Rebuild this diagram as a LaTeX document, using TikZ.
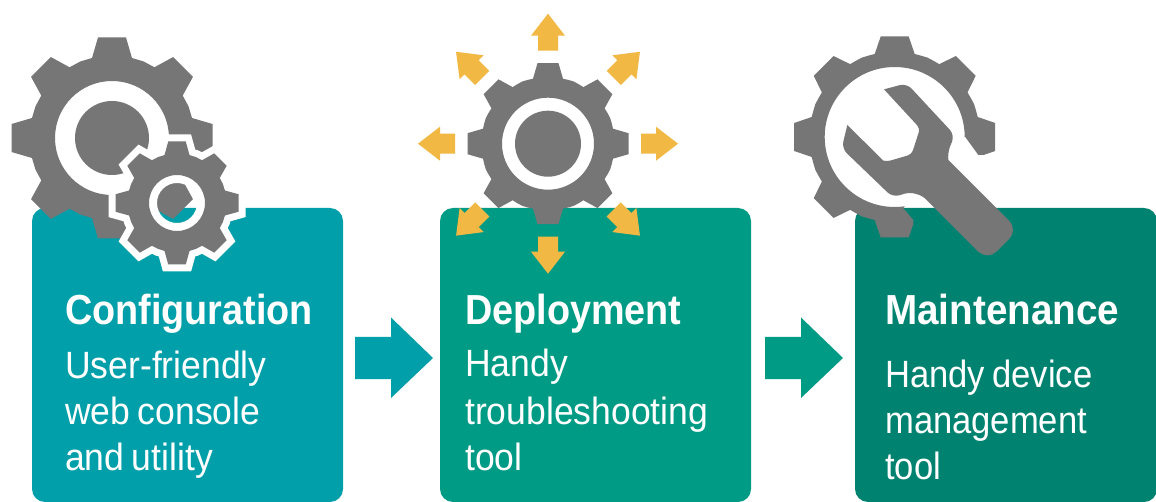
\documentclass[tikz,border=0pt]{standalone}
\usepackage{fontspec}
\setmainfont[FakeStretch=0.9]{Liberation Sans}
\newfontfamily\bodyfont[FakeStretch=0.935,WordSpace=0.75]{Liberation Sans}
\newfontfamily\bodyfontC[FakeStretch=0.91,WordSpace=0.75]{Liberation Sans}
\newfontfamily\headfontC[FakeStretch=0.92]{Liberation Sans}
\usetikzlibrary{calc}
\definecolor{gearg}{HTML}{767676}
\definecolor{tealA}{HTML}{009FA9}
\definecolor{tealB}{HTML}{009B84}
\definecolor{tealC}{HTML}{008270}
\definecolor{gold}{HTML}{F2B844}
\tikzset{
 x=1pt,y=-1pt,
 cardbox/.style={rounded corners=13pt},
 headtext/.style={font=\bfseries\fontsize{42}{42}\selectfont,text=white,anchor=base west,inner sep=0},
 headtextC/.style={font=\headfontC\bfseries\fontsize{42}{42}\selectfont,text=white,anchor=base west,inner sep=0},
 bodytext/.style={font=\bodyfont\fontsize{38}{38}\selectfont,text=white,anchor=base west,inner sep=0},
 bodytextC/.style={font=\bodyfontC\fontsize{38}{38}\selectfont,text=white,anchor=base west,inner sep=0},
 rayarrow/.style={fill=gold},
}
% gear outline: centre x, y, tip radius, root radius, half root width
\newcommand{\gearp}[5]{%
 \foreach \ga [count=\gi] in {0,45,...,315}{
   \ifnum\gi=1 \else -- \fi
   ($(#1,#2)+({\ga-90}:#4)+(\ga:{-(#5)})$)
   -- ($(#1,#2)+({\ga-90}:#3)+(\ga:{-(#5)*0.7})$)
   -- ($(#1,#2)+({\ga-90}:#3)+(\ga:{(#5)*0.7})$)
   -- ($(#1,#2)+({\ga-90}:#4)+(\ga:{#5})$)
   -- ($(#1,#2)+({\ga-90+18}:{(#4)*1.03})$)
   -- ($(#1,#2)+({\ga-90+22.5}:{(#4)*1.035})$)
   -- ($(#1,#2)+({\ga-90+27}:{(#4)*1.03})$)
 } -- cycle}
\newcommand{\wrenchpt}[2]{({780+(#1)/3},{20+(#2)/3})}
\newcommand{\rayshape}[1]{%
 \fill[rayarrow,shift={(548,143.7)},rotate=#1] (93,-10) -- (108,-10) -- (108,-17) -- (130,0) -- (108,17) -- (108,10) -- (93,10) -- cycle;}
\begin{document}
\begin{tikzpicture}
\useasboundingbox (0,0) rectangle (1156,502);
\fill[white] (0,0) rectangle (1156,502);
% cards
\fill[tealA,cardbox] (32,208) rectangle (343,502);
\fill[tealB,cardbox] (440,208) rectangle (751,502);
\fill[tealC,cardbox] (855,208) rectangle (1157,502);
% big gear 1
\fill[gearg,even odd rule] \gearp{112}{138}{100.5}{80}{20} (112,138) circle[radius=57];
\fill[gearg] (112,138) circle[radius=37];
% small gear with halo
\draw[white,line width=14pt,line join=miter,miter limit=3] \gearp{177}{203}{61.5}{48}{12.5};
\fill[white,even odd rule] (177,203) circle[radius=29] (177,203) circle[radius=20];
\fill[gearg,even odd rule] \gearp{177}{203}{61.5}{48}{12.5} (177,203) circle[radius=28];
% gear 2
\fill[gearg,even odd rule] \gearp{548}{143.7}{80.5}{65}{15} (548,143.7) circle[radius=46];
\fill[gearg] (548,143.7) circle[radius=33];
\foreach \ra in {0,45,...,315}{\rayshape{\ra}}
% gear 3
\begin{scope}
\clip \wrenchpt{0}{0} -- \wrenchpt{700}{0} -- \wrenchpt{700}{405} -- \wrenchpt{595}{405} -- \wrenchpt{555}{350} -- \wrenchpt{440}{460} -- \wrenchpt{370}{565} -- \wrenchpt{400}{600} -- \wrenchpt{400}{700} -- \wrenchpt{0}{700} -- cycle;
\fill[gearg,even odd rule] \gearp{894.7}{137}{100.5}{83}{20} (894.7,137) circle[radius=70];
\end{scope}
% wrench
\fill[gearg] \wrenchpt{312}{208} [rounded corners=7pt] -- \wrenchpt{380}{190} -- \wrenchpt{524}{345} -- \wrenchpt{502}{400} [rounded corners=0pt] -- \wrenchpt{505}{420} [rounded corners=13pt] -- \wrenchpt{715}{630} -- \wrenchpt{622}{722} -- \wrenchpt{410}{510} [rounded corners=7pt] -- \wrenchpt{338}{532} -- \wrenchpt{185}{385} [rounded corners=0pt] -- \wrenchpt{202}{315} -- \wrenchpt{310}{422} [rounded corners=4pt] -- \wrenchpt{320}{425} -- \wrenchpt{395}{403} -- \wrenchpt{420}{325} [rounded corners=0pt] -- cycle;
% connector arrows
\coordinate (a1s) at (355,358); \coordinate (a2s) at (765,358);
\fill[tealA] (a1s) ++(0,-21) -- ++(36,0) -- ++(0,-19.5) -- (433,358) -- (391,398) -- ++(0,-19) -- ++(-36,0) -- cycle;
\fill[tealB] (a2s) ++(0,-21) -- ++(36,0) -- ++(0,-19.5) -- (843,358) -- (801,398) -- ++(0,-19) -- ++(-36,0) -- cycle;
% text
\node[headtext] (t1) at (65,325) {Configuration};
\node[bodytext] (t1a) at (65,378) {User-friendly};
\node[bodytext] (t1b) at (65,424) {web console};
\node[bodytext] (t1c) at (65,470) {and utility};
\node[headtext] (t2) at (465,325) {Deployment};
\node[bodytext] (t2a) at (465,377) {Handy};
\node[bodytext] (t2b) at (465,424) {troubleshooting};
\node[bodytext] (t2c) at (465,470) {tool};
\node[headtextC] (t3) at (885,325) {Maintenance};
\node[bodytextC] (t3a) at (885,387) {Handy device};
\node[bodytextC] (t3b) at (885,433) {management};
\node[bodytextC] (t3c) at (885,479) {tool};
\end{tikzpicture}
\end{document}
